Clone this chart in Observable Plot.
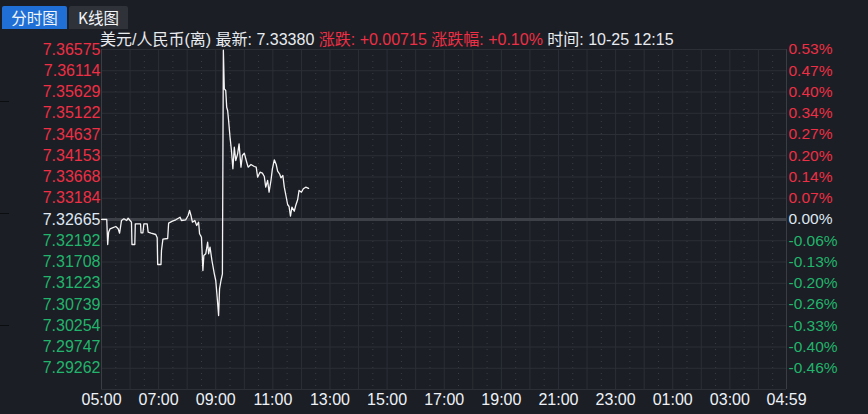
<!DOCTYPE html>
<html>
<head>
<meta charset="utf-8">
<script src="https://cdn.jsdelivr.net/npm/d3@7"></script>
<script src="https://cdn.jsdelivr.net/npm/@observablehq/plot@0.6"></script>
<style>
  html, body { margin: 0; padding: 0; background: #1b1e24; }
  #wrap { position: relative; width: 868px; height: 414px; overflow: hidden; background: #1b1e24;
          font-family: "Liberation Sans", Arial, "Noto Sans CJK SC", sans-serif; }
  #chart { position: absolute; left: 0; top: 0; }
  .tab { position: absolute; top: 6px; height: 23px; line-height: 23px; color: #f2f4f8; font-size: 15.5px;
         text-align: center; border-radius: 2px 2px 0 0; font-family: "Noto Sans CJK SC", "Liberation Sans", sans-serif; }
  #tab1 { left: 2px; width: 65px; background: #1f6fd6; }
  #tab2 { left: 69px; width: 59px; background: #2f3239; }
  #header { position: absolute; left: 100px; top: 30px; font-size: 16px; line-height: 19px; white-space: nowrap;
            color: #e8ebf0; font-family: "Liberation Sans", "Noto Sans CJK SC", sans-serif; }
  #header .r { color: #ee2f45; }
  .mark { position: absolute; height: 1px; background: #0c0d10; }
</style>
</head>
<body>
<div id="wrap">
  <div id="chart"></div>
  <div class="tab" id="tab1">分时图</div>
  <div class="tab" id="tab2">K线图</div>
  <div id="header"></div>
  <div class="mark" style="left:0;top:101px;width:9px"></div>
  <div class="mark" style="left:0;top:213px;width:9px"></div>
  <div class="mark" style="left:0;top:325px;width:9px"></div>
</div>
<script>
// ---- data ----
const symbolName = "美元/人民币(离)";
const lastPrice = "7.33380";
const change = "+0.00715";
const changePct = "+0.10%";
const quoteTime = "10-25 12:15";
const preClose = 7.32665;

const times = ["05:00","05:11","05:13","05:15","05:18","05:23","05:30","05:35","05:38","05:42",
  "05:47","05:53","05:56","06:00","06:03","06:04","06:10","06:11","06:22","06:23",
  "06:27","06:29","06:36","06:38","06:44","06:54","06:57","06:58","07:05","07:06",
  "07:09","07:19","07:21","07:29","07:36","07:45","07:48","07:57","08:02","08:05",
  "08:08","08:11","08:16","08:20","08:24","08:26","08:30","08:33","08:35","08:39",
  "08:43","08:45","08:48","08:52","08:57","09:00","09:03","09:06","09:08","09:11",
  "09:14","09:16","09:18","09:21","09:23","09:25","09:27","09:30","09:33","09:36",
  "09:39","09:42","09:46","09:49","09:53","09:56","10:00","10:04","10:08","10:14",
  "10:21","10:25","10:28","10:33","10:38","10:42","10:45","10:49","10:52","10:56",
  "10:59","11:03","11:07","11:10","11:14","11:17","11:21","11:24","11:27","11:31",
  "11:34","11:37","11:40","11:45","11:48","11:52","11:55","12:00","12:04","12:09","12:15"];
const prices = [7.32670,7.32670,7.32090,7.32373,7.32451,7.32474,7.32504,7.32451,7.32350,7.32642,
  7.32681,7.32642,7.32695,7.32642,7.32603,7.32090,7.32090,7.32566,7.32566,7.32359,
  7.32359,7.32566,7.32566,7.32373,7.32350,7.32320,7.32244,7.31630,7.31630,7.31952,
  7.32212,7.32228,7.32580,7.32626,7.32658,7.32718,7.32642,7.32658,7.32757,7.32872,
  7.32757,7.32603,7.32642,7.32527,7.32603,7.32336,7.32258,7.31492,7.31837,7.31876,
  7.32143,7.31876,7.32028,7.31722,7.31416,7.31262,7.30878,7.30457,7.31071,7.31262,
  7.31416,7.36560,7.35671,7.35632,7.35248,7.35172,7.34942,7.34558,7.34252,7.33831,
  7.34328,7.34022,7.34176,7.34406,7.33868,7.34137,7.34190,7.34022,7.33868,7.33930,
  7.33884,7.33868,7.33638,7.33753,7.33730,7.33654,7.33408,7.33562,7.33293,7.33562,
  7.33831,7.34038,7.33930,7.33776,7.33716,7.33624,7.33677,7.33408,7.33240,7.33010,
  7.32964,7.32741,7.32948,7.32856,7.32987,7.33118,7.33332,7.33293,7.33371,7.33408,7.33380];

const priceTickLabels = ["7.36575","7.36114","7.35629","7.35122","7.34637","7.34153","7.33668","7.33184",
  "7.32665","7.32192","7.31708","7.31223","7.30739","7.30254","7.29747","7.29262"];
const pctTickLabels = ["0.53%","0.47%","0.40%","0.34%","0.27%","0.20%","0.14%","0.07%",
  "0.00%","-0.06%","-0.13%","-0.20%","-0.26%","-0.33%","-0.40%","-0.46%"];
const timeTickLabels = ["05:00","07:00","09:00","11:00","13:00","15:00","17:00","19:00",
  "21:00","23:00","01:00","03:00","04:59"];

// ---- helpers ----
const RED = "#ee2f45", GREEN = "#22b46c", NEUTRAL = "#dfe7f2";
const toMin = s => { const [h, m] = s.split(":").map(Number); return ((h * 60 + m) - 300 + 1440) % 1440; };
const series = times.map((t, i) => ({t: toMin(t), p: prices[i]}));
const half = 8;                       // grid steps on each side of the previous close
const step = (+priceTickLabels[0] - preClose) / half;
const gridY = d3.range(-half, half + 1).map(k => preClose + k * step);
const yTicks = priceTickLabels.map((lab, i) => ({
  v: preClose + (half - i) * step, lab, pct: pctTickLabels[i],
  c: i < half ? RED : i === half ? NEUTRAL : GREEN
}));
const xTicks = timeTickLabels.map(lab => ({v: lab === "04:59" ? 1439 : toMin(lab), lab}));
const xEnd = 1439;
const hourLines = d3.range(0, 24 * 60 + 1, 60).map(v => Math.min(v, xEnd));
const halfLines = d3.range(30, 24 * 60, 60);

document.getElementById("header").innerHTML =
  `${symbolName} 最新: ${lastPrice} <span class="r">涨跌: ${change} 涨跌幅: ${changePct}</span> 时间: ${quoteTime}`;

const chart = Plot.plot({
  width: 868,
  height: 414,
  marginLeft: 101,
  marginRight: 82,
  marginTop: 49,
  marginBottom: 25,
  style: {background: "transparent", fontFamily: "'Liberation Sans', Arial, sans-serif"},
  x: {domain: [0, xEnd], axis: null},
  y: {domain: [gridY[0], gridY[gridY.length - 1]], axis: null},
  color: {type: "identity"},
  marks: [
    Plot.ruleX(halfLines, {stroke: "#3a3e46", strokeWidth: 1, strokeDasharray: "1,5"}),
    Plot.ruleX(hourLines, {stroke: "#2c2f36", strokeWidth: 1}),
    Plot.ruleY(gridY, {stroke: "#2c2f36", strokeWidth: 1}),
    Plot.ruleY([preClose], {stroke: "#3d4047", strokeWidth: 3}),
    Plot.ruleX([0, xEnd], {stroke: "#3a3d44", strokeWidth: 1}),
    Plot.line(series, {x: "t", y: "p", stroke: "#f4f4f4", strokeWidth: 1.3}),
    Plot.text(yTicks, {x: () => 0, y: "v", text: "lab", fill: "c", textAnchor: "end", dx: -1, fontSize: 16}),
    Plot.text(yTicks, {x: () => xEnd, y: "v", text: "pct", fill: "c", textAnchor: "start", dx: 2, fontSize: 15.5}),
    Plot.text(xTicks, {x: "v", y: () => gridY[0], text: "lab", fill: "#eef2f8", lineAnchor: "top", dy: 4, fontSize: 16})
  ]
});
document.getElementById("chart").appendChild(chart);
</script>
</body>
</html>
